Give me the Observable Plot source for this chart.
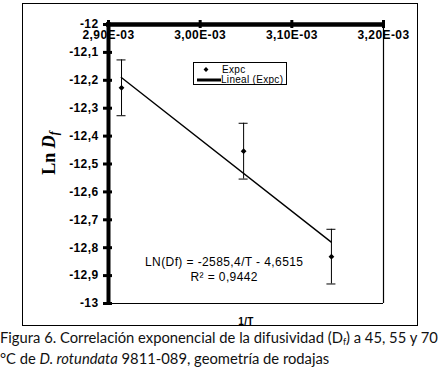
<!DOCTYPE html>
<html><head><meta charset="utf-8">
<script src="https://cdn.jsdelivr.net/npm/d3@7"></script>
<script src="https://cdn.jsdelivr.net/npm/@observablehq/plot@0.6"></script>
<style>
body{margin:0;background:#fff;}
#wrap{position:relative;width:442px;height:370px;overflow:hidden;font-family:"Liberation Sans",Arial,sans-serif;background:#fff;}
#chart{position:absolute;left:0;top:0;}
#frame{position:absolute;left:22px;top:3px;width:394px;height:321px;border:1px solid #000;pointer-events:none;}
#ylab{position:absolute;left:50px;top:153px;transform:translate(-50%,-50%) rotate(-90deg);font-family:"Liberation Serif","Times New Roman",serif;font-weight:bold;font-size:18px;white-space:nowrap;color:#000;}
#ylab sub{font-size:12px;vertical-align:-3px;}
#legend{position:absolute;left:193px;top:62px;width:92px;height:21px;border:1px solid #000;background:#fff;}
#caption{position:absolute;left:0;top:329px;font-family:Lato,"Noto Sans",sans-serif;color:#111;white-space:nowrap;line-height:17px;}
#caption sub{font-size:60%;vertical-align:-2px;}
</style></head><body>
<div id="wrap">
  <div id="chart"></div>
  <div id="ylab">Ln <i>D<sub>f</sub></i></div>
  <div id="legend"></div>
  <div id="frame"></div>
  <div id="caption">
    <div id="cap1">Figura 6. Correlación exponencial de la difusividad (D<sub>f</sub>) a 45, 55 y 70</div>
    <div id="cap2">°C de <i>D. rotundata</i> 9811-089, geometría de rodajas</div>
  </div>
</div>
<script>
// Data
const invT = [0.0029142, 0.0030474, 0.0031432];
const lnDf = [-12.227, -12.454, -12.832];
const errLn = [0.1, 0.1, 0.098];
const trendInvT = [0.002914, 0.003143];
const trendLnDf = [-12.19, -12.78];
const xTicks = [0.0029, 0.0030, 0.0031, 0.0032];
const xTickLabels = ["2,90E-03", "3,00E-03", "3,10E-03", "3,20E-03"];
const yTicks = [-12, -12.1, -12.2, -12.3, -12.4, -12.5, -12.6, -12.7, -12.8, -12.9, -13];
const yTickLabels = ["-12", "-12,1", "-12,2", "-12,3", "-12,4", "-12,5", "-12,6", "-12,7", "-12,8", "-12,9", "-13"];
const eqLine1 = "LN(Df) = -2585,4/T - 4,6515";
const eqLine2 = "R² = 0,9442";
const xLabel = "1/T";
const legendLabels = ["Expc", "Lineal (Expc)"];

const pts = invT.map((x, i) => ({x, y: lnDf[i], lo: lnDf[i] - errLn[i], hi: lnDf[i] + errLn[i]}));
const trend = trendInvT.map((x, i) => ({x, y: trendLnDf[i]}));
const xt = xTicks.map((v, i) => ({v, label: xTickLabels[i]}));
const yt = yTicks.map((v, i) => ({v, label: yTickLabels[i]}));

const xMin = xTicks[0], xMax = xTicks[xTicks.length - 1];
const yMin = -13, yMax = -12;

const plot = Plot.plot({
  width: 442, height: 330,
  marginTop: 24, marginBottom: 27, marginLeft: 108, marginRight: 59,
  x: {domain: [xMin, xMax], axis: null},
  y: {domain: [yMin, yMax], axis: null},
  style: {fontFamily: "Liberation Sans, Arial, sans-serif", background: "transparent", overflow: "visible", color: "#000"},
  marks: [
    Plot.ruleX([xMax], {stroke: "#000", strokeWidth: 1.2}),
    Plot.ruleY([yMin], {stroke: "#000", strokeWidth: 1.2}),
    Plot.line(trend, {x: "x", y: "y", stroke: "#000", strokeWidth: 1.4}),
    Plot.ruleX(pts, {x: "x", y1: "lo", y2: "hi", stroke: "#000", strokeWidth: 1}),
    Plot.ruleY(pts, {y: "lo", x1: "x", x2: "x", insetLeft: -4.5, insetRight: -4.5, stroke: "#000", strokeWidth: 1}),
    Plot.ruleY(pts, {y: "hi", x1: "x", x2: "x", insetLeft: -4.5, insetRight: -4.5, stroke: "#000", strokeWidth: 1}),
    Plot.dot(pts, {x: "x", y: "y", symbol: "diamond2", r: 2.6, fill: "#000", stroke: "none"}),
    Plot.ruleX([xMin], {stroke: "#000", strokeWidth: 4, insetTop: -2}),
    Plot.ruleY([yMax], {stroke: "#000", strokeWidth: 4.5, insetLeft: -2, insetRight: -1}),
    Plot.ruleY(yt, {y: "v", x1: xMin, x2: xMin, insetLeft: -5, insetRight: -4, stroke: "#000", strokeWidth: 3}),
    Plot.ruleX(xt, {x: "v", y1: yMax, y2: yMax, insetTop: -4, insetBottom: -4, stroke: "#000", strokeWidth: 3}),
    Plot.text(yt, {x: xMin, y: "v", text: "label", textAnchor: "end", dx: -10, fontSize: 12, fontWeight: "bold", fill: "#000"}),
    Plot.text(xt, {x: "v", frameAnchor: "top", dy: 11, lineAnchor: "middle", text: "label", fontSize: 12, fontWeight: "bold", fill: "#000"}),
    Plot.text([eqLine1], {x: 0.0030262, y: -12.852, text: d => d, fontSize: 12, fill: "#000"}),
    Plot.text([eqLine2], {x: 0.0030262, y: -12.906, text: d => d, fontSize: 12, fill: "#000"}),
    Plot.text([xLabel], {frameAnchor: "bottom", dy: 18, lineAnchor: "middle", text: d => d, fontSize: 10, fontWeight: "bold", fill: "#000"})
  ]
});
document.getElementById("chart").appendChild(plot);
d3.select(plot).selectAll("text").style("letter-spacing", "0.4px");

// Legend
const lg = d3.select("#legend").append("svg").attr("width", 92).attr("height", 21).style("display", "block")
  .style("font-family", "Liberation Sans, Arial, sans-serif").style("font-size", "10px");
lg.append("path").attr("d", d3.symbol(d3.symbolSquare, 12)()).attr("transform", "translate(12,6.5) rotate(45)").attr("fill", "#000");
lg.append("text").attr("x", 28).attr("y", 10).text(legendLabels[0]).style("letter-spacing", "0.3px");
lg.append("line").attr("x1", 3).attr("x2", 27).attr("y1", 17).attr("y2", 17).attr("stroke", "#000").attr("stroke-width", 3);
lg.append("text").attr("x", 27).attr("y", 20).text(legendLabels[1]).style("letter-spacing", "0.3px");

// Fit caption line 1 to the reference width
const cap = document.getElementById("caption");
cap.style.fontSize = "15px";
const w = document.getElementById("cap1").getBoundingClientRect().width;
cap.style.fontSize = (15 * 438 / w).toFixed(2) + "px";
</script>
</body></html>
